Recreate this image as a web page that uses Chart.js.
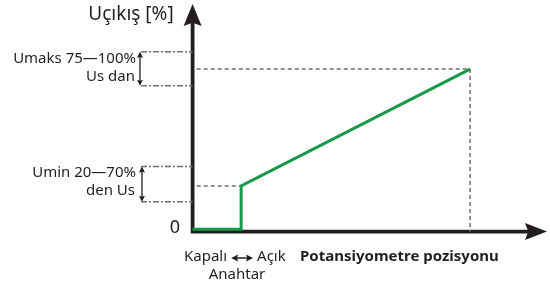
<!DOCTYPE html>
<html>
  <head>
    <title>Uçıkış - Potansiyometre</title>
    <script src="https://cdn.jsdelivr.net/npm/chart.js@4/dist/chart.umd.min.js"></script>
    <style>
      body { margin: 0; background: #fff; }
      #wrap { width: 550px; height: 291px; }
    </style>
  </head>

  <body>
    <div id="wrap"><canvas id="myChart"></canvas></div>
    <script>
      // green output curve: potentiometer position -> output %
      const posX = [0, 17.5, 17.5, 100];
      const outY = [1.4, 1.4, 28, 100];

      // bands shown with brackets left of the y axis
      const umaxBand = [89.7, 110.6];
      const uminBand = [18.3, 40];
      const bandLeft = -18.6;

      const yTitle = 'Uçıkış [%]';
      const xTitle = 'Potansiyometre pozisyonu';
      const umaxLabel = ['Umaks 75—100%', 'Us dan'];
      const uminLabel = ['Umin 20—70%', 'den Us'];
      const switchLabel = ['Kapalı', 'Açık', 'Anahtar'];
      const zeroLabel = '0';

      const green = '#17994b';
      const axisColor = '#231f20';
      const guideColor = '#707070';
      const FONT = '"Noto Sans", "DejaVu Sans", sans-serif';

      const pts = (xs, ys) => xs.map((x, i) => ({ x: x, y: ys[i] }));
      const guide = (xs, ys, dash) => ({
        data: pts(xs, ys),
        borderColor: guideColor,
        borderWidth: 1.5,
        borderDash: dash || [4, 3],
        pointRadius: 0,
        fill: false,
        order: 2,
      });

      const datasets = [
        {
          data: pts(posX, outY),
          borderColor: green,
          borderWidth: 3,
          pointRadius: 0,
          fill: false,
          order: 0,
        },
        guide([1.5, posX[3]], [outY[3], outY[3]]),
        guide([posX[3], posX[3]], [outY[3], 0]),
        guide([1.5, posX[1]], [outY[2], outY[2]]),
        guide([bandLeft, 0], [umaxBand[1], umaxBand[1]], [6, 2, 2, 2]),
        guide([bandLeft, 0], [umaxBand[0], umaxBand[0]], [6, 2, 2, 2]),
        guide([bandLeft, 0], [uminBand[1], uminBand[1]], [6, 2, 2, 2]),
        guide([bandLeft, 0], [uminBand[0], uminBand[0]], [6, 2, 2, 2]),
      ];

      function arrowHead(ctx, x, y, dir, len, half) {
        ctx.beginPath();
        if (dir === 'up') {
          ctx.moveTo(x, y);
          ctx.lineTo(x - half, y + len);
          ctx.lineTo(x, y + len * 0.85);
          ctx.lineTo(x + half, y + len);
        } else if (dir === 'down') {
          ctx.moveTo(x, y);
          ctx.lineTo(x - half, y - len);
          ctx.lineTo(x, y - len * 0.85);
          ctx.lineTo(x + half, y - len);
        } else if (dir === 'left') {
          ctx.moveTo(x, y);
          ctx.lineTo(x + len, y - half);
          ctx.lineTo(x + len * 0.85, y);
          ctx.lineTo(x + len, y + half);
        } else {
          ctx.moveTo(x, y);
          ctx.lineTo(x - len, y - half);
          ctx.lineTo(x - len * 0.85, y);
          ctx.lineTo(x - len, y + half);
        }
        ctx.closePath();
        ctx.fill();
      }

      const axesPlugin = {
        id: 'axesPlugin',
        beforeDatasetsDraw(chart) {
          const ctx = chart.ctx;
          const sx = chart.scales.x, sy = chart.scales.y;
          const x0 = sx.getPixelForValue(0), y0 = sy.getPixelForValue(0);
          ctx.save();
          ctx.strokeStyle = axisColor;
          ctx.fillStyle = axisColor;
          ctx.lineWidth = 3.8;
          ctx.beginPath();
          ctx.moveTo(x0, y0 + 2);
          ctx.lineTo(x0, 20);
          ctx.moveTo(x0 - 1.9, y0);
          ctx.lineTo(535, y0);
          ctx.stroke();
          arrowHead(ctx, x0, 4, 'up', 22, 9);
          arrowHead(ctx, 547, y0, 'right', 22, 8.5);
          ctx.restore();
        },
        afterDraw(chart) {
          const ctx = chart.ctx;
          const sx = chart.scales.x, sy = chart.scales.y;
          ctx.save();
          // bracket arrows
          ctx.strokeStyle = axisColor;
          ctx.fillStyle = axisColor;
          ctx.lineWidth = 1.3;
          [umaxBand, uminBand].forEach((b, i) => {
            const ax = sx.getPixelForValue(bandLeft) - (i === 0 ? 1 : -1);
            const top = sy.getPixelForValue(b[1]);
            const bot = sy.getPixelForValue(b[0]);
            ctx.beginPath();
            ctx.moveTo(ax, top + 4);
            ctx.lineTo(ax, bot - 4);
            ctx.stroke();
            arrowHead(ctx, ax, top, 'up', 6, 3);
            arrowHead(ctx, ax, bot, 'down', 6, 3);
          });

          ctx.fillStyle = axisColor;
          ctx.textBaseline = 'middle';
          ctx.textAlign = 'center';
          ctx.font = '19px ' + FONT;
          ctx.fillText(yTitle, 131, 15);
          ctx.font = '18px ' + FONT;
          ctx.fillText(zeroLabel, 175, 228);

          ctx.font = '15px ' + FONT;
          ctx.textAlign = 'right';
          ctx.fillText(umaxLabel[0], 136, 59);
          ctx.fillText(umaxLabel[1], 135, 77);
          ctx.fillText(uminLabel[0], 136, 173);
          ctx.fillText(uminLabel[1], 135, 191);

          // switch label with a small double arrow between the words
          ctx.textAlign = 'left';
          ctx.fillText(switchLabel[0], 184, 257);
          const w0 = ctx.measureText(switchLabel[0]).width;
          const ax0 = 184 + w0 + 4, ax1 = ax0 + 22;
          ctx.lineWidth = 1.5;
          ctx.beginPath();
          ctx.moveTo(ax0 + 4, 258);
          ctx.lineTo(ax1 - 4, 258);
          ctx.stroke();
          arrowHead(ctx, ax0, 258, 'left', 7, 3.5);
          arrowHead(ctx, ax1, 258, 'right', 7, 3.5);
          ctx.fillText(switchLabel[1], ax1 + 4, 257);
          ctx.textAlign = 'center';
          ctx.fillText(switchLabel[2], 237, 275);

          ctx.font = 'bold 15px ' + FONT;
          ctx.textAlign = 'left';
          ctx.fillText(xTitle, 300, 257);
          ctx.restore();
        },
      };

      const ctx = document.getElementById('myChart');
      const myChart = new Chart(ctx, {
        type: 'line',
        data: { datasets: datasets },
        options: {
          responsive: true,
          maintainAspectRatio: false,
          animation: false,
          layout: { padding: 0 },
          plugins: { legend: { display: false }, tooltip: { enabled: false } },
          scales: {
            x: { type: 'linear', display: false, min: -69.4, max: 128.8 },
            y: { type: 'linear', display: false, min: -36.6, max: 142.5 },
          },
        },
        plugins: [axesPlugin],
      });
    </script>
  </body>
</html>
